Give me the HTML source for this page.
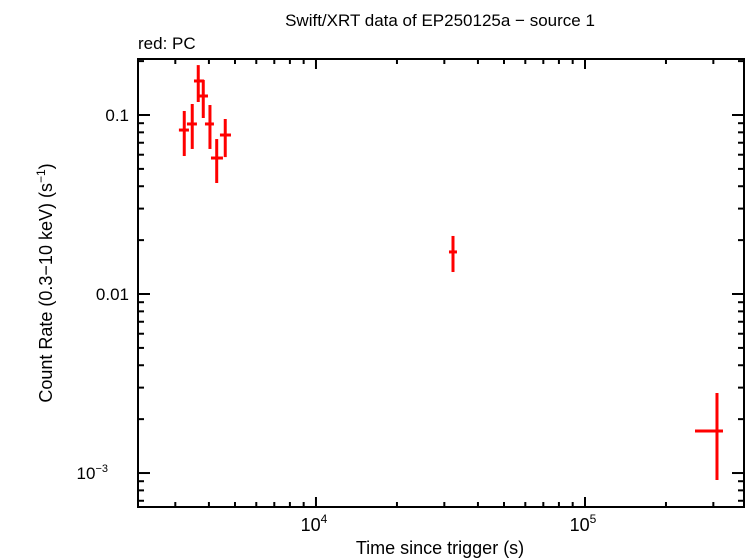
<!DOCTYPE html>
<html><head><meta charset="utf-8"><style>
html,body{margin:0;padding:0;background:#fff;}
svg{display:block;font-family:"Liberation Sans",sans-serif;}
</style></head><body>
<svg id="chart" width="746" height="558" viewBox="0 0 746 558" xmlns="http://www.w3.org/2000/svg">
<text x="440" y="26" font-size="17" text-anchor="middle">Swift/XRT data of EP250125a − source 1</text>
<text x="138" y="49" font-size="17">red: PC</text>
<text x="440" y="554" font-size="18" text-anchor="middle">Time since trigger (s)</text>
<text transform="translate(52,283) rotate(-90)" font-size="18" text-anchor="middle">Count Rate (0.3−10 keV) (s<tspan font-size="12" dy="-7">−1</tspan><tspan dy="7">)</tspan></text>
<g id="axes"></g>
<g id="marks"></g>
<rect x="138" y="59" width="606" height="448" fill="none" stroke="#000" stroke-width="2"/>
</svg>
<script>
const times=[3239,3468,3651,3811,4036,4276,4600,32310,309500];
const timeLo=[3094,3314,3520,3673,3867,4071,4396,31220,256400];
const timeHi=[3372,3610,3834,3968,4176,4511,4831,33430,325800];
const rates=[0.0824,0.0891,0.1549,0.1277,0.0891,0.0575,0.0773,0.01718,0.001717];
const rateHi=[0.1053,0.1152,0.190,0.157,0.1137,0.0734,0.095,0.0211,0.0028];
const rateLo=[0.059,0.0646,0.1182,0.0962,0.0646,0.0417,0.0582,0.01327,0.000914];
const xTickVals=[1e4,1e5];
const xTickLabels=["4","5"];
const yTickVals=[0.1,0.01,0.001];
const yTickLabels=["0.1","0.01","10"];

const L=138,R=744,T=59,B=507;
const xMin=Math.log10(2180),xMax=Math.log10(390000);
const yMin=Math.log10(0.000646),yMax=Math.log10(0.2055);
function X(v){return L+(Math.log10(v)-xMin)/(xMax-xMin)*(R-L);}
function Y(v){return B-(Math.log10(v)-yMin)/(yMax-yMin)*(B-T);}
const NS="http://www.w3.org/2000/svg";
function mk(tag,attrs,parent){const e=document.createElementNS(NS,tag);for(const k in attrs)e.setAttribute(k,attrs[k]);parent.appendChild(e);return e;}
const axes=document.getElementById('axes'),marks=document.getElementById('marks');
function tick(x1,y1,x2,y2){const l=mk('line',{x1:x1,y1:y1,x2:x2,y2:y2,stroke:'#000','stroke-width':2},axes);

}
// x ticks
for(let d=3;d<=5;d++){for(let m=1;m<=9;m++){const v=m*Math.pow(10,d);const lv=Math.log10(v);if(lv<xMin||lv>xMax)continue;const x=X(v);const len=m===1?10:5;tick(x,B,x,B-len);tick(x,T,x,T+len);}}
// y ticks
for(let d=-4;d<=-1;d++){for(let m=1;m<=9;m++){const v=m*Math.pow(10,d);const lv=Math.log10(v);if(lv<yMin||lv>yMax)continue;const y=Y(v);const len=m===1?12:6;tick(L,y,L+len,y);tick(R,y,R-len,y);}}
xTickVals.forEach((v,i)=>{const t=mk('text',{x:X(v)-2,y:531,'font-size':18,'text-anchor':'middle'},axes);


t.textContent='10';const s=mk('tspan',{'font-size':12,dy:-8},t);s.textContent=xTickLabels[i];});
yTickVals.forEach((v,i)=>{const t=mk('text',{x:129,y:Y(v)+6,'font-size':17,'text-anchor':'end'},axes);


if(i===2){t.setAttribute('x',108);t.textContent='10';const s=mk('tspan',{'font-size':11,dy:-7},t);s.textContent='−3';}else t.textContent=yTickLabels[i];});
times.forEach((t,i)=>{const g=mk('g',{},marks);


mk('line',{x1:X(timeLo[i]),x2:X(timeHi[i]),y1:Y(rates[i]),y2:Y(rates[i]),stroke:'#f00','stroke-width':3},g);
mk('line',{x1:X(t),x2:X(t),y1:Y(rateHi[i]),y2:Y(rateLo[i]),stroke:'#f00','stroke-width':3},g);});
</script>
</body></html>
